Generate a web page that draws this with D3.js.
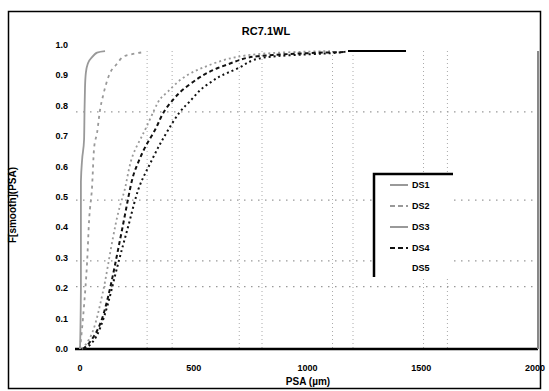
<!DOCTYPE html>
<html>
<head>
<meta charset="utf-8">
<script src="https://cdn.jsdelivr.net/npm/d3@7"></script>
<style>
  body { margin: 0; background: #fff; }
  svg { display: block; font-family: "Liberation Sans", Arial, sans-serif; }
</style>
</head>
<body>
<figure id="cdf" style="margin:0"></figure>
<script>
// chart values
const title = "RC7.1WL";
const xLabel = "PSA (µm)";
const yLabel = "F[smooth](PSA)";
const xTicks = [0, 500, 1000, 1500, 2000];
const yTicks = [0, 0.1, 0.2, 0.3, 0.4, 0.5, 0.6, 0.7, 0.8, 0.9, 1.0];
const xGrid = [295, 405, 700, 800, 1110, 1200, 1510, 1615];
const yGrid = [0.205, 0.29, 0.49, 0.78];
const seriesNames = ["DS1", "DS2", "DS3", "DS4", "DS5"];

const s1x = [0, 4, 4, 9, 18, 20, 22, 26, 35, 53, 75, 110];
const s1y = [0, 0.2, 0.55, 0.62, 0.69, 0.79, 0.86, 0.91, 0.94, 0.96, 0.975, 0.98];

const s2x = [0, 18, 31, 40, 53, 62, 75, 88, 101, 132, 158, 189, 229, 286];
const s2y = [0, 0.145, 0.283, 0.424, 0.533, 0.661, 0.711, 0.786, 0.832, 0.908, 0.934, 0.961, 0.970, 0.977];

const s3x = [9, 22, 53, 75, 88, 110, 132, 158, 176, 198, 211, 229, 264, 286, 330, 352, 382, 426, 470, 514, 558, 629, 690, 760, 923, 1099];
const s3y = [0, 0.01, 0.046, 0.102, 0.145, 0.217, 0.316, 0.418, 0.474, 0.523, 0.579, 0.638, 0.688, 0.72, 0.793, 0.826, 0.842, 0.878, 0.901, 0.918, 0.931, 0.951, 0.961, 0.970, 0.977, 0.98];

const s4x = [13, 35, 66, 88, 110, 141, 167, 198, 229, 251, 286, 338, 360, 418, 453, 519, 558, 602, 668, 734, 835, 1011, 1165];
const s4y = [0, 0.013, 0.046, 0.079, 0.128, 0.227, 0.326, 0.441, 0.566, 0.605, 0.668, 0.727, 0.776, 0.829, 0.855, 0.891, 0.908, 0.924, 0.941, 0.961, 0.967, 0.974, 0.977];

const s5x = [22, 57, 88, 123, 154, 189, 220, 255, 299, 343, 382, 440, 484, 528, 571, 607, 646, 712, 756, 857, 1011, 1143, 1178];
const s5y = [0, 0.02, 0.063, 0.145, 0.243, 0.342, 0.424, 0.533, 0.595, 0.664, 0.714, 0.786, 0.813, 0.855, 0.875, 0.895, 0.908, 0.928, 0.954, 0.964, 0.970, 0.974, 0.98];

// flat top segment drawn solid in black
const capX = [1178, 1433];
const capY = [0.98, 0.98];

const width = 549;
const height = 391;

const svg = d3.select("figure#cdf")
  .append("svg")
  .attr("width", width)
  .attr("height", height);

const x = d3.scaleLinear().domain([0, 2000]).range([80, 535]);
const y = d3.scaleLinear().domain([0, 1]).range([349, 45]);

// outer frame
svg.append("rect")
  .attr("x", 8.5).attr("y", 11.5)
  .attr("width", 532).attr("height", 377)
  .attr("fill", "none")
  .attr("stroke", "#000")
  .attr("stroke-width", 1.5);

// grid
svg.selectAll(".vgrid")
  .data(xGrid)
  .enter()
  .append("line")
  .attr("x1", d => x(d)).attr("x2", d => x(d))
  .attr("y1", 51).attr("y2", 349)
  .attr("stroke", "#aaa")
  .attr("stroke-dasharray", "1,3");

svg.selectAll(".hgrid")
  .data(yGrid)
  .enter()
  .append("line")
  .attr("x1", 76).attr("x2", 538)
  .attr("y1", d => y(d)).attr("y2", d => y(d))
  .attr("stroke", "#999")
  .attr("stroke-width", 1.2)
  .attr("stroke-dasharray", "1.5,5.5");

// axes lines
svg.append("line")
  .attr("x1", 75).attr("x2", 538)
  .attr("y1", 349).attr("y2", 349)
  .attr("stroke", "#000")
  .attr("stroke-width", 2.5);

svg.append("line")
  .attr("x1", 538).attr("x2", 538)
  .attr("y1", 51).attr("y2", 349)
  .attr("stroke", "#888")
  .attr("stroke-width", 2);

// tick labels
svg.selectAll(".xt")
  .data(xTicks)
  .enter()
  .append("text")
  .attr("x", d => x(d))
  .attr("y", 371)
  .attr("text-anchor", "middle")
  .style("font-size", "9px")
  .style("font-weight", "bold")
  .text(d => d);

svg.selectAll(".yt")
  .data(yTicks)
  .enter()
  .append("text")
  .attr("x", 68)
  .attr("y", d => y(d) + 3)
  .attr("text-anchor", "end")
  .style("font-size", "9px")
  .style("font-weight", "bold")
  .text(d => d.toFixed(1));

// titles
svg.append("text")
  .attr("x", 266).attr("y", 35)
  .attr("text-anchor", "middle")
  .style("font-size", "11px")
  .style("font-weight", "bold")
  .text(title);

svg.append("text")
  .attr("x", 308).attr("y", 385)
  .attr("text-anchor", "middle")
  .style("font-size", "10px")
  .style("font-weight", "bold")
  .text(xLabel);

svg.append("text")
  .attr("transform", "translate(16,205) rotate(-90)")
  .attr("text-anchor", "middle")
  .style("font-size", "10px")
  .style("font-weight", "bold")
  .text(yLabel);

// series
const styles = [
  { color: "#999", dash: null, w: 1.8 },
  { color: "#999", dash: "3,4", w: 1.8 },
  { color: "#999", dash: "2,3", w: 1.8 },
  { color: "#111", dash: "4,3", w: 2 },
  { color: "#111", dash: "2,3", w: 2 }
];
const xs = [s1x, s2x, s3x, s4x, s5x];
const ys = [s1y, s2y, s3y, s4y, s5y];

const steepLine = d3.line()
  .x(d => x(d[0]))
  .y(d => y(d[1]))
  .curve(d3.curveMonotoneX);

// the S-curves are smoothed, like the reference
const smoothLine = d3.line()
  .x(d => x(d[0]))
  .y(d => y(d[1]))
  .curve(d3.curveBasis);

xs.forEach((arr, i) => {
  const pts = arr.map((v, j) => [v, ys[i][j]]);
  svg.append("path")
    .attr("d", i < 2 ? steepLine(pts) : smoothLine(pts))
    .attr("fill", "none")
    .attr("stroke", styles[i].color)
    .attr("stroke-width", styles[i].w)
    .attr("stroke-dasharray", styles[i].dash);
});

svg.append("path")
  .attr("d", steepLine(capX.map((v, j) => [v, capY[j]])))
  .attr("fill", "none")
  .attr("stroke", "#000")
  .attr("stroke-width", 2);

// legend
const lg = svg.append("g");
lg.append("rect")
  .attr("x", 375).attr("y", 175)
  .attr("width", 78).attr("height", 102)
  .attr("fill", "#fff");
lg.append("path")
  .attr("d", "M374,277 L374,174 L453,174")
  .attr("fill", "none")
  .attr("stroke", "#000")
  .attr("stroke-width", 2.5);

const legendY = [185, 206, 227, 248, 268];
seriesNames.forEach((name, i) => {
  if (i < 4) {
    lg.append("line")
      .attr("x1", 390).attr("x2", 408)
      .attr("y1", legendY[i]).attr("y2", legendY[i])
      .attr("stroke", styles[i].color)
      .attr("stroke-width", 2)
      .attr("stroke-dasharray", i % 2 ? "5,3" : null);
  }
  lg.append("text")
    .attr("x", 412)
    .attr("y", legendY[i] + 3)
    .style("font-size", "9px")
    .style("font-weight", "bold")
    .text(name);
});
</script>
</body>
</html>
